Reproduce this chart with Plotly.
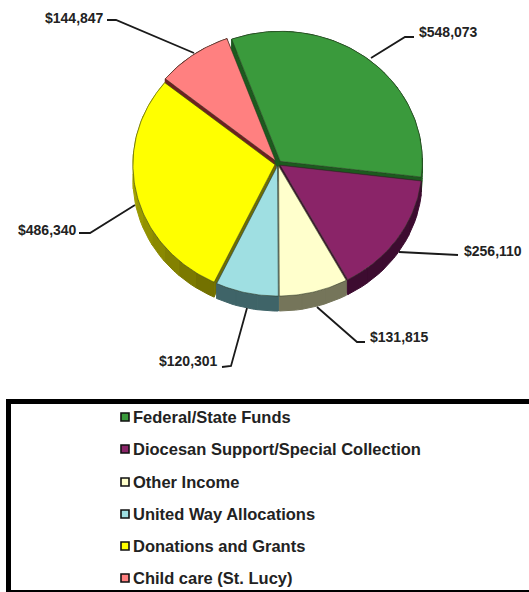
import numpy as np
import plotly.graph_objects as go

# ---- data ----
categories = ["Federal/State Funds", "Diocesan Support/Special Collection", "Other Income",
              "United Way Allocations", "Donations and Grants", "Child care (St. Lucy)"]
values = [548073, 256110, 131815, 120301, 486340, 144847]
value_labels = ["$548,073", "$256,110", "$131,815", "$120,301", "$486,340", "$144,847"]

# ---- style ----
top_colors = ["#3a9a3c", "#8a2468", "#ffffcc", "#9fdfe2", "#ffff00", "#ff8080"]
wall_start = [(28, 90, 30), (61, 12, 48), (117, 117, 90), (63, 100, 104), (112, 110, 0), (110, 32, 32)]
wall_end = [(28, 90, 30), (61, 12, 48), (117, 117, 90), (63, 100, 104), (205, 205, 0), (110, 32, 32)]
pulls = [0.026, 0.018, 0.016, 0.016, 0.022, 0.03]

W, H = 529, 592
CX, CY, RX, RY = 278.0, 164.0, 142.0, 130.0
DEPTH = 15.0 / RY
START = -20.0

# data axes are in pie units; the ellipse comes from the axes' scale
xrange_ = [-CX / RX, (W - CX) / RX]
yrange_ = [(CY - H) / RY, CY / RY]


def px(x):
    return (x - CX) / RX


def py(y):
    return (CY - y) / RY


def arc(a0, a1):
    t = np.radians(np.linspace(a0, a1, max(3, int(abs(a1 - a0)) + 2)))
    return np.sin(t), np.cos(t)


fig = go.Figure()
total = sum(values)
spans = []
a = START
for v in values:
    spans.append((a, a + 360.0 * v / total))
    a += 360.0 * v / total


def slice_geo(i):
    a0, a1 = spans[i]
    mid = np.radians((a0 + a1) / 2)
    return a0, a1, pulls[i] * np.sin(mid), pulls[i] * np.cos(mid)


def rgb(c):
    return "rgb(%d,%d,%d)" % tuple(c)


# walls, back to front
order = sorted(range(len(values)), key=lambda i: -slice_geo(i)[3])
for i in order:
    a0, a1, ox, oy = slice_geo(i)
    sx, sy = arc(a0, a1)
    base = rgb(wall_start[i])
    xs, ys = [], []
    for k in (0, -1):
        xs += [ox, ox + sx[k], ox + sx[k], ox, ox, None]
        ys += [oy, oy + sy[k], oy + sy[k] - DEPTH, oy - DEPTH, oy, None]
    fig.add_trace(go.Scatter(x=xs, y=ys, mode="lines", fill="toself", fillcolor=base,
                             line=dict(color=base, width=0.6), hoverinfo="skip", showlegend=False))
    # rim wall in short segments so its shade can change along the arc
    n = max(1, int((a1 - a0) / 8))
    edges = np.linspace(a0, a1, n + 1)
    for j in range(n):
        f = (j + 0.5) / n
        col = rgb([wall_start[i][c] + f * (wall_end[i][c] - wall_start[i][c]) for c in range(3)])
        ax, ay = arc(edges[j], edges[j + 1])
        xs = list(ox + ax) + list(ox + ax[::-1]) + [ox + ax[0]]
        ys = list(oy + ay) + list(oy + ay[::-1] - DEPTH) + [oy + ay[0]]
        fig.add_trace(go.Scatter(x=xs, y=ys, mode="lines", fill="toself", fillcolor=col,
                                 line=dict(color=col, width=1.0), hoverinfo="skip", showlegend=False))

# top faces
for i in range(len(values)):
    a0, a1, ox, oy = slice_geo(i)
    sx, sy = arc(a0, a1)
    xs = [ox] + list(ox + sx) + [ox]
    ys = [oy] + list(oy + sy) + [oy]
    fig.add_trace(go.Scatter(x=xs, y=ys, mode="lines", fill="toself", fillcolor=top_colors[i],
                             line=dict(color="rgba(40,50,30,0.75)", width=0.7),
                             name=categories[i], text=value_labels[i], hoverinfo="name+text",
                             showlegend=False))

# leader lines (pixel anchors on the canvas)
leaders = [
    [(371, 58), (405, 37), (414, 37)],
    [(399, 252), (458, 255)],
    [(317, 307), (357, 342), (365, 342)],
    [(247, 308), (231, 366), (222, 367)],
    [(135, 205), (90, 233), (79, 233)],
    [(194, 53), (116, 20), (107, 20)],
]
label_pos = [(418, 32), (463, 251), (369, 337), (158, 361), (17, 230), (44, 18)]
for i, pts in enumerate(leaders):
    fig.add_trace(go.Scatter(x=[px(p[0]) for p in pts], y=[py(p[1]) for p in pts], mode="lines",
                             line=dict(color="#1a1a1a", width=1.8), hoverinfo="skip", showlegend=False))

annotations = []
for lab, (lx, ly) in zip(value_labels, label_pos):
    annotations.append(dict(x=lx / W, y=1 - ly / H, xref="paper", yref="paper", text="<b>%s</b>" % lab,
                            showarrow=False, xanchor="left", yanchor="middle",
                            font=dict(family="Liberation Sans", size=14, color="#222222"),
                            xshift=-1))

# legend panel
legend_y = [417, 449, 482, 514, 546, 578]
shapes = [dict(type="rect", xref="paper", yref="paper", x0=8.5 / W, x1=540 / W, y0=1 - 401.5 / H, y1=1 - 592.5 / H,
               line=dict(color="#000000", width=5), fillcolor="rgba(0,0,0,0)")]
fig.add_trace(go.Scatter(x=[px(125)] * 6, y=[py(y) for y in legend_y], mode="markers",
                         marker=dict(symbol="square", size=8, color=top_colors,
                                     line=dict(color="#111111", width=1.6)),
                         hoverinfo="skip", showlegend=False))
for cat, y in zip(categories, legend_y):
    annotations.append(dict(x=131 / W, y=1 - y / H, xref="paper", yref="paper", text="<b>%s</b>" % cat,
                            showarrow=False, xanchor="left", yanchor="middle",
                            font=dict(family="Liberation Sans", size=16.5, color="#222222")))

fig.update_layout(
    width=W, height=H, margin=dict(l=0, r=0, t=0, b=0),
    paper_bgcolor="white", plot_bgcolor="white", showlegend=False,
    xaxis=dict(range=xrange_, visible=False, fixedrange=True),
    yaxis=dict(range=yrange_, visible=False, fixedrange=True),
    annotations=annotations, shapes=shapes,
)
fig.write_html("out.html", config=dict(displayModeBar=False), post_script="document.body.style.margin='0';")
